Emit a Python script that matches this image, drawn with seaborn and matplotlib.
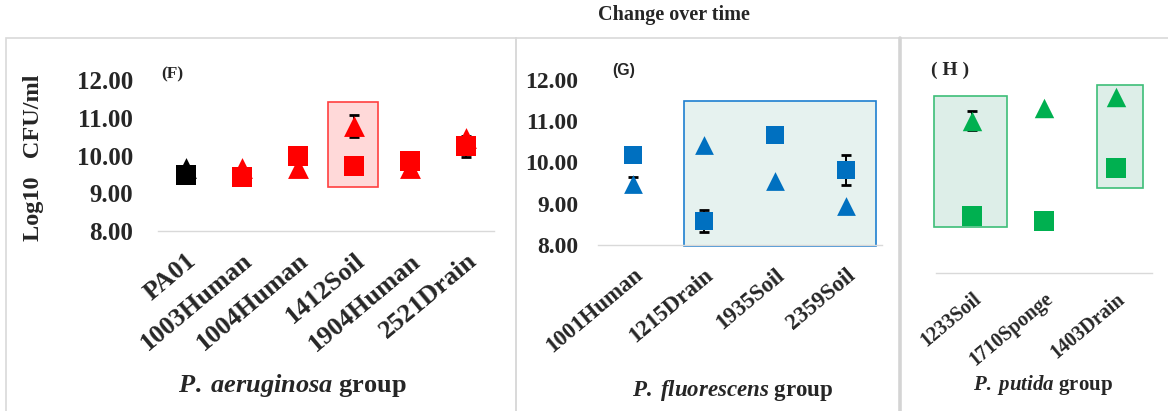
import numpy as np
import pandas as pd
import matplotlib
matplotlib.use("Agg")
import matplotlib.pyplot as plt
import seaborn as sns
from matplotlib.patches import Rectangle
from matplotlib.lines import Line2D
from matplotlib.collections import PathCollection
from matplotlib.ticker import FormatStrFormatter

# ---- P. aeruginosa group (F) ----
aer_strains = ["PA01", "1003Human", "1004Human", "1412Soil", "1904Human", "2521Drain"]
aer_colors = ["#000000", "#FF0000", "#FF0000", "#FF0000", "#FF0000", "#FF0000"]
aer_square = [9.49, 9.43, 10.00, 9.72, 9.85, 10.25]
aer_square_err = [0, 0, 0, 0, 0, 0.28]
aer_triangle = [9.68, 9.67, 9.67, 10.78, 9.66, 10.46]
aer_triangle_err = [0, 0, 0, 0.29, 0, 0]

# ---- P. fluorescens group (G) ----
flu_strains = ["1001Human", "1215Drain", "1935Soil", "2359Soil"]
flu_colors = ["#0070C0"] * 4
flu_square = [10.17, 8.59, 10.66, 9.82]
flu_square_err = [0, 0.27, 0, 0.37]
flu_triangle = [9.49, 10.42, 9.56, 8.94]
flu_triangle_err = [0.17, 0, 0, 0]

# ---- P. putida group (H) ----
put_strains = ["1233Soil", "1710Sponge", "1403Drain"]
put_colors = ["#00B050"] * 3
put_square = [8.51, 8.39, 9.78]
put_square_err = [0, 0, 0]
put_triangle = [11.05, 11.40, 11.67]
put_triangle_err = [0.25, 0, 0]

# highlighted strains: (category from, category to, value from, value to)
aer_boxes = [(2.54, 3.42, 9.16, 11.43)]
flu_boxes = [(0.72, 3.42, 7.98, 11.49)]
put_boxes = [(-0.53, 0.49, 8.22, 11.71), (1.73, 2.38, 9.27, 12.00)]

sns.set_theme(style="white")
plt.rcParams["font.family"] = ["Liberation Serif", "DejaVu Serif"]
plt.rcParams["font.weight"] = "bold"
plt.rcParams["mathtext.fontset"] = "custom"
plt.rcParams["mathtext.it"] = "Liberation Serif:italic:bold"
plt.rcParams["mathtext.rm"] = "Liberation Serif:bold"

W, H = 1168, 411
fig = plt.figure(figsize=(W / 100, H / 100), dpi=100)


def fx(px):
    return px / W


def fy(py):
    return 1 - py / H


def add_axes_px(x0, x1, ybase, ytop):
    return fig.add_axes([fx(x0), fy(ybase), (x1 - x0) / W, (ybase - ytop) / H])


def draw_panel(ax, strains, colors, sq, sq_err, tri, tri_err, boxes, box_face,
               box_edge, ylim, ms, xlab_size, xlab_pad):
    pal = dict(zip(strains, colors))
    df_tri = pd.DataFrame({"strain": strains, "value": tri})
    df_sq = pd.DataFrame({"strain": strains, "value": sq})
    pos = np.arange(len(strains))

    # error bars go first so the markers cover their stems
    for vals, errs in ((tri, tri_err), (sq, sq_err)):
        e = np.asarray(errs, dtype=float)
        keep = e > 0
        if keep.any():
            ax.errorbar(pos[keep], np.asarray(vals)[keep], yerr=e[keep], fmt="none",
                        ecolor="black", elinewidth=1.4, capsize=3.5, capthick=2,
                        zorder=1.5)
    before = set(id(c) for c in ax.collections)
    sns.stripplot(data=df_tri, x="strain", y="value", hue="strain", palette=pal,
                  order=strains, jitter=False, marker="^", size=ms, linewidth=0,
                  legend=False, ax=ax)
    tri_colls = [c for c in ax.collections
                 if isinstance(c, PathCollection) and id(c) not in before]
    before = set(id(c) for c in ax.collections)
    sns.stripplot(data=df_sq, x="strain", y="value", hue="strain", palette=pal,
                  order=strains, jitter=False, marker="s", size=ms, linewidth=0,
                  legend=False, ax=ax)
    sq_colls = [c for c in ax.collections
                if isinstance(c, PathCollection) and id(c) not in before]
    for c in tri_colls:
        c.set_zorder(3)
    for c in sq_colls:
        c.set_zorder(4)

    for (c0, c1, v0, v1) in boxes:
        ax.add_patch(Rectangle((c0, v0), c1 - c0, v1 - v0, facecolor=box_face,
                               edgecolor=box_edge, linewidth=1.2, zorder=0.5,
                               clip_on=False))
    ax.set_xlim(-0.5, len(strains) - 0.5)
    ax.set_ylim(*ylim)
    ax.set_xlabel("")
    ax.set_ylabel("")
    ax.set_xticks(pos)
    ax.set_xticklabels(strains, rotation=40, ha="right", va="top",
                       rotation_mode="anchor", fontsize=xlab_size,
                       fontweight="bold")
    ax.tick_params(axis="x", length=0, pad=xlab_pad)
    for side in ("left", "right", "top"):
        ax.spines[side].set_visible(False)
    ax.spines["bottom"].set_color("#d9d9d9")
    ax.spines["bottom"].set_linewidth(1.0)
    ax.grid(False)
    ax.patch.set_alpha(0)


# panel frames
frame_kw = dict(transform=fig.transFigure, facecolor="none", edgecolor="#d9d9d9",
                linewidth=1.2, zorder=-1)
fig.patches.append(Rectangle((fx(6), fy(430)), (516 - 6) / W, (430 - 38) / H, **frame_kw))
fig.patches.append(Rectangle((fx(516), fy(430)), (900 - 516) / W, (430 - 38) / H, **frame_kw))
fig.patches.append(Rectangle((fx(900), fy(430)), (1180 - 900) / W, (430 - 38) / H, **frame_kw))
fig.lines.append(Line2D([fx(900), fx(900)], [fy(38), 0], transform=fig.transFigure,
                        color="#d4d4d4", linewidth=2.6))

# ---- F ----
axF = add_axes_px(158, 494, 231, 68.7)
draw_panel(axF, aer_strains, aer_colors, aer_square, aer_square_err, aer_triangle,
           aer_triangle_err, aer_boxes, "#FFD9D9", "#FF4040", (8, 12.3), 15, 19, 13)
axF.set_yticks(np.arange(8, 13, 1))
axF.yaxis.set_major_formatter(FormatStrFormatter("%.2f"))
axF.tick_params(axis="y", length=0, pad=18, labelsize=18)
axF.set_ylabel("Log10   CFU/ml", fontsize=17.5, fontweight="bold")
axF.yaxis.set_label_coords(-0.339, 0.45)

# ---- G ----
axG = add_axes_px(597.5, 881.5, 245, 67.6)
draw_panel(axG, flu_strains, flu_colors, flu_square, flu_square_err, flu_triangle,
           flu_triangle_err, flu_boxes, "#E6F2EF", "#1E7FD0", (8, 12.3), 13.5, 16.5, 14)
axG.set_yticks(np.arange(8, 13, 1))
axG.yaxis.set_major_formatter(FormatStrFormatter("%.2f"))
axG.tick_params(axis="y", length=0, pad=14, labelsize=17)

# ---- H ----
axH = add_axes_px(936, 1152, 273, 73.7)
draw_panel(axH, put_strains, put_colors, put_square, put_square_err, put_triangle,
           put_triangle_err, put_boxes, "#DDEEE8", "#3DBE78", (7, 12.3), 14, 14.5, 11.5)
axH.set_yticks([])
axH.tick_params(axis="y", left=False, labelleft=False)

# panel tags
fig.text(fx(172), fy(74), "(F)", ha="center", va="center", fontsize=12.5, fontweight="bold")
fig.text(fx(624), fy(71), "(G)", ha="center", va="center", fontsize=11.5,
         fontweight="bold", family=["Liberation Sans", "DejaVu Sans"])
fig.text(fx(950), fy(70), "( H )", ha="center", va="center", fontsize=14, fontweight="bold")

# group captions
fig.text(fx(293), fy(385), r"$\mathit{P.\;aeruginosa}$ group", ha="center", va="center",
         fontsize=19, fontweight="bold")
fig.text(fx(733), fy(390), r"$\mathit{P.\;fluorescens}$ group", ha="center", va="center",
         fontsize=16.5, fontweight="bold")
fig.text(fx(1043), fy(385), r"$\mathit{P.\;putida}$ group", ha="center", va="center",
         fontsize=15, fontweight="bold")

fig.text(fx(674), fy(15), "Change over time", ha="center", va="center", fontsize=14.5,
         fontweight="bold")

fig.savefig("out.png", dpi=100, facecolor="white")
